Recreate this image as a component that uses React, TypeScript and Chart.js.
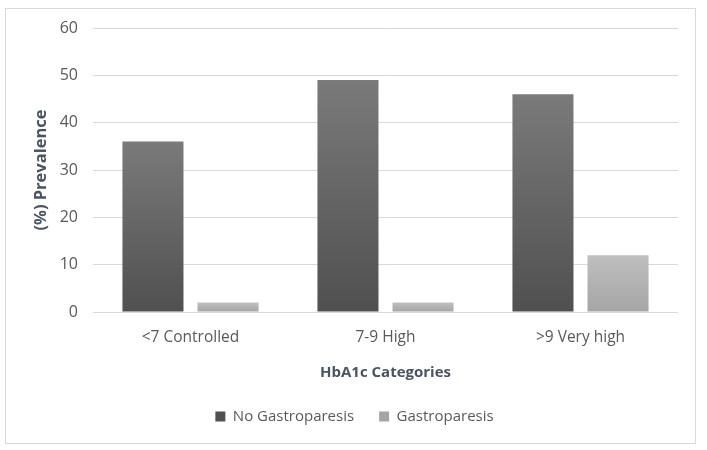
import React, { useEffect, useRef } from "react";
import { Chart, registerables } from "chart.js";

Chart.register(...registerables);

const categories = ["<7 Controlled", "7-9 High", ">9 Very high"];
const noGastroparesis = [36, 49, 46];
const gastroparesis = [2, 2, 12];
const yTicks = [0, 10, 20, 30, 40, 50, 60];

const FONT = "'Open Sans', 'Noto Sans', sans-serif";
const TICK_COLOR = "#595959";
const TITLE_COLOR = "#4a5361";

function gradientFill(top: string, bottom: string, solid: string) {
  return (ctx: any) => {
    if (ctx.type !== "data") return solid;
    const chart = ctx.chart;
    const y = chart.scales?.y;
    if (!y) return solid;
    const yTop = y.getPixelForValue(ctx.raw);
    const yBot = y.getPixelForValue(0);
    if (!isFinite(yTop) || !isFinite(yBot) || yTop === yBot) return solid;
    const g = chart.ctx.createLinearGradient(0, yTop, 0, yBot);
    g.addColorStop(0, top);
    g.addColorStop(1, bottom);
    return g;
  };
}

export default function App() {
  const ref = useRef<HTMLCanvasElement | null>(null);

  useEffect(() => {
    if (!ref.current) return;
    const chart = new Chart(ref.current, {
      type: "bar",
      data: {
        labels: categories,
        datasets: [
          {
            label: "No Gastroparesis",
            data: noGastroparesis,
            backgroundColor: gradientFill("#7a7a7a", "#505050", "#595959"),
            borderWidth: 0,
          },
          {
            label: "Gastroparesis",
            data: gastroparesis,
            backgroundColor: gradientFill("#bfbfbf", "#a5a5a5", "#b2b2b2"),
            borderWidth: 0,
          },
        ],
      },
      options: {
        animation: false,
        responsive: false,
        maintainAspectRatio: false,
        layout: { padding: { left: 31, right: 29, top: 28, bottom: 16 } },
        datasets: {
          bar: { categoryPercentage: 0.77, barPercentage: 0.813 },
        },
        plugins: {
          legend: {
            position: "bottom",
            labels: {
              boxWidth: 10,
              boxHeight: 10,
              padding: 25,
              color: TICK_COLOR,
              font: { family: FONT, size: 15 },
            },
          },
          tooltip: { enabled: false },
        },
        scales: {
          x: {
            grid: { display: false, drawTicks: false },
            border: { display: false },
            ticks: {
              color: TICK_COLOR,
              font: { family: FONT, size: 15.5 },
              padding: 16,
            },
            title: {
              display: true,
              text: "HbA1c Categories",
              color: TITLE_COLOR,
              font: { family: FONT, size: 15, weight: "bold" },
              padding: { top: 8, bottom: 2 },
            },
            afterFit: (scale: any) => {
              scale.height = 72;
            },
          },
          y: {
            min: 0,
            max: 60,
            afterBuildTicks: (scale: any) => {
              scale.ticks = yTicks.map((v) => ({ value: v }));
            },
            grid: { color: "#d9d9d9", drawTicks: false, lineWidth: 1 },
            border: { display: false },
            ticks: {
              color: TICK_COLOR,
              font: { family: FONT, size: 16 },
              padding: 15,
            },
            title: {
              display: true,
              text: "(%) Prevalence",
              color: TITLE_COLOR,
              font: { family: FONT, size: 16.5, weight: "bold" },
              padding: { top: 0, bottom: 4 },
            },
            afterFit: (scale: any) => {
              scale.width = 62;
            },
          },
        },
      },
    });
    return () => chart.destroy();
  }, []);

  return (
    <div style={{ position: "fixed", left: 0, top: 0, width: 707, height: 450, background: "#fff" }}>
      <div
        style={{
          position: "absolute",
          left: 5,
          top: 8,
          width: 689,
          height: 434,
          border: "1px solid #d9d9d9",
        }}
      />
      <canvas ref={ref} width={707} height={450} style={{ position: "absolute", left: 0, top: 0 }} />
    </div>
  );
}
